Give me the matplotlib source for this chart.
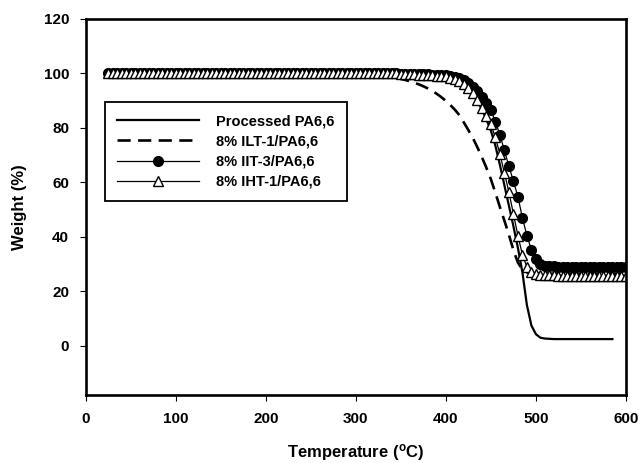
import matplotlib
matplotlib.use('Agg')
import matplotlib.pyplot as plt

plt.rcParams['font.family'] = ['Liberation Sans', 'DejaVu Sans']
plt.rcParams['font.weight'] = 'bold'
plt.rcParams['mathtext.fontset'] = 'custom'
plt.rcParams['mathtext.rm'] = 'Liberation Sans:bold'

# temperature grid (degC), one reading every 5 degC
temp = [25, 30, 35, 40, 45, 50, 55, 60, 65, 70, 75, 80, 85, 90, 95, 100,
        105, 110, 115, 120, 125, 130, 135, 140, 145, 150, 155, 160, 165, 170,
        175, 180, 185, 190, 195, 200, 205, 210, 215, 220, 225, 230, 235, 240,
        245, 250, 255, 260, 265, 270, 275, 280, 285, 290, 295, 300, 305, 310,
        315, 320, 325, 330, 335, 340, 345, 350, 355, 360, 365, 370, 375, 380,
        385, 390, 395, 400, 405, 410, 415, 420, 425, 430, 435, 440, 445, 450,
        455, 460, 465, 470, 475, 480, 485, 490, 495, 500, 505, 510, 515, 520,
        525, 530, 535, 540, 545, 550, 555, 560, 565, 570, 575, 580, 585, 590,
        595, 600]

# weight (%)
processed = [100.0, 100.0, 100.0, 100.0, 100.0, 100.0, 100.0, 100.0, 100.0, 100.0,
             100.0, 100.0, 100.0, 100.0, 100.0, 100.0, 100.0, 100.0, 100.0, 100.0,
             100.0, 100.0, 100.0, 100.0, 100.0, 100.0, 100.0, 100.0, 100.0, 100.0,
             100.0, 100.0, 100.0, 100.0, 100.0, 100.0, 100.0, 100.0, 100.0, 100.0,
             100.0, 100.0, 100.0, 100.0, 100.0, 100.0, 100.0, 100.0, 100.0, 100.0,
             100.0, 100.0, 100.0, 100.0, 100.0, 100.0, 100.0, 100.0, 100.0, 100.0,
             100.0, 100.0, 100.0, 100.0, 100.0,
             99.9, 99.8, 99.8, 99.7, 99.6, 99.5, 99.4, 99.3, 99.2, 99.0,
             98.8, 98.4, 97.8, 97.0, 95.9, 94.4, 92.4, 89.8, 86.8, 83.2,
             79.0, 73.5, 66.5, 59.0, 51.5, 44.0, 36.0, 27.0, 15.0, 7.5,
             4.3, 3.0, 2.7, 2.6, 2.5,
             2.5, 2.5, 2.5, 2.5, 2.5, 2.5, 2.5, 2.5, 2.5, 2.5, 2.5, 2.5, 2.5]

ilt1 = [100.0, 100.0, 100.0, 100.0, 100.0, 100.0, 100.0, 100.0, 100.0, 100.0,
        100.0, 100.0, 100.0, 100.0, 100.0, 100.0, 100.0, 100.0, 100.0, 100.0,
        100.0, 100.0, 100.0, 100.0, 100.0, 100.0, 100.0, 100.0, 100.0, 100.0,
        100.0, 100.0, 100.0, 100.0, 100.0, 100.0, 100.0, 100.0, 100.0, 100.0,
        100.0, 100.0, 100.0, 100.0, 100.0, 100.0, 100.0, 100.0, 100.0, 100.0,
        100.0, 100.0,
        99.9, 99.9, 99.8, 99.8, 99.7, 99.6, 99.5, 99.4, 99.2, 99.1,
        98.9, 98.7, 98.4, 98.0, 97.6, 97.1, 96.6, 96.0, 95.3, 94.5,
        93.6, 92.5, 91.3, 89.9, 88.4, 86.7, 84.7, 82.0, 79.2, 76.3,
        72.9, 69.3, 65.4, 61.2, 56.2, 51.0, 46.0, 40.8, 35.2, 30.6,
        28.0, 27.0, 26.7, 26.6, 26.5,
        26.5, 26.5, 26.5, 26.5, 26.5, 26.5, 26.5, 26.5, 26.5, 26.5,
        26.5, 26.5, 26.5, 26.5, 26.5, 26.5, 26.5, 26.5, 26.5]

iit3 = [100.0, 100.0, 100.0, 100.0, 100.0, 100.0, 100.0, 100.0, 100.0, 100.0,
        100.0, 100.0, 100.0, 100.0, 100.0, 100.0, 100.0, 100.0, 100.0, 100.0,
        100.0, 100.0, 100.0, 100.0, 100.0, 100.0, 100.0, 100.0, 100.0, 100.0,
        100.0, 100.0, 100.0, 100.0, 100.0, 100.0, 100.0, 100.0, 100.0, 100.0,
        100.0, 100.0, 100.0, 100.0, 100.0, 100.0, 100.0, 100.0, 100.0, 100.0,
        100.0, 100.0, 100.0, 100.0, 100.0, 100.0, 100.0, 100.0, 100.0, 100.0,
        100.0, 100.0, 100.0, 100.0, 100.0,
        99.9, 99.9, 99.9, 99.8, 99.8, 99.7, 99.7, 99.6, 99.5, 99.4,
        99.3, 99.1, 98.8, 98.3, 97.5, 96.5, 95.2, 93.5, 91.5, 89.2,
        86.5, 82.3, 77.5, 71.8, 66.0, 60.5, 54.8, 47.0, 40.5, 35.3,
        31.8, 30.0, 29.5, 29.3, 29.2,
        29.1, 29.1, 29.1, 29.1, 29.0, 29.0, 29.0, 29.0, 29.0, 29.0,
        29.0, 29.0, 29.0, 29.0, 29.0, 29.0]

iht1 = [100.0, 100.0, 100.0, 100.0, 100.0, 100.0, 100.0, 100.0, 100.0, 100.0,
        100.0, 100.0, 100.0, 100.0, 100.0, 100.0, 100.0, 100.0, 100.0, 100.0,
        100.0, 100.0, 100.0, 100.0, 100.0, 100.0, 100.0, 100.0, 100.0, 100.0,
        100.0, 100.0, 100.0, 100.0, 100.0, 100.0, 100.0, 100.0, 100.0, 100.0,
        100.0, 100.0, 100.0, 100.0, 100.0, 100.0, 100.0, 100.0, 100.0, 100.0,
        100.0, 100.0, 100.0, 100.0, 100.0, 100.0, 100.0, 100.0, 100.0, 100.0,
        100.0, 100.0, 100.0, 100.0, 100.0,
        99.9, 99.8, 99.8, 99.7, 99.6, 99.5, 99.4, 99.3, 99.2, 99.0,
        98.9, 98.5, 98.0, 97.2, 96.2, 94.8, 92.8, 90.3, 87.3, 84.5,
        81.3, 76.5, 70.5, 63.5, 56.5, 48.5, 40.5, 33.5, 29.0, 27.0,
        26.3, 26.0, 25.9, 25.9, 25.9,
        25.8, 25.8, 25.8, 25.8, 25.8, 25.8, 25.8, 25.8, 25.8, 25.8,
        25.8, 25.8, 25.8, 25.8, 25.8, 25.8]

labels = ['Processed PA6,6', '8% ILT-1/PA6,6', '8% IIT-3/PA6,6', '8% IHT-1/PA6,6']

fig = plt.figure(figsize=(6.4, 4.63), dpi=100)
ax = fig.add_axes([0.134, 0.147, 0.844, 0.812])

ax.plot(temp[:len(processed)], processed, '-', color='black', lw=1.6, label=labels[0])
ax.plot(temp, ilt1, color='black', lw=1.9, dashes=(5, 2.8), label=labels[1])
ax.plot(temp, iit3, '-', color='black', lw=0.9, marker='o', ms=7,
        mfc='black', mec='black', mew=1.0, label=labels[2])
ax.plot(temp, iht1, '-', color='black', lw=0.9, marker='^', ms=7,
        mfc='white', mec='black', mew=1.0, label=labels[3])

ax.set_xlim(0, 600)
ax.set_ylim(-18, 120)
ax.set_xticks([0, 100, 200, 300, 400, 500, 600])
ax.set_yticks([0, 20, 40, 60, 80, 100, 120])
for s in ax.spines.values():
    s.set_linewidth(1.9)
ax.tick_params(direction='out', length=4, width=0.8, labelsize=11, pad=8,
               top=False, right=False)

ax.set_xlabel(r'Temperature ($\mathrm{^{o}}$C)', fontsize=12, fontweight='bold', labelpad=12)
ax.set_ylabel('Weight (%)', fontsize=12, fontweight='bold', labelpad=12)

leg = ax.legend(loc='upper left', bbox_to_anchor=(0.035, 0.779), borderaxespad=0,
                fontsize=10.5, handlelength=5.6, handletextpad=1.2,
                labelspacing=0.42, borderpad=0.85, fancybox=False,
                edgecolor='black', framealpha=1)
leg.get_frame().set_linewidth(1.3)

fig.savefig('out.png', dpi=100)
